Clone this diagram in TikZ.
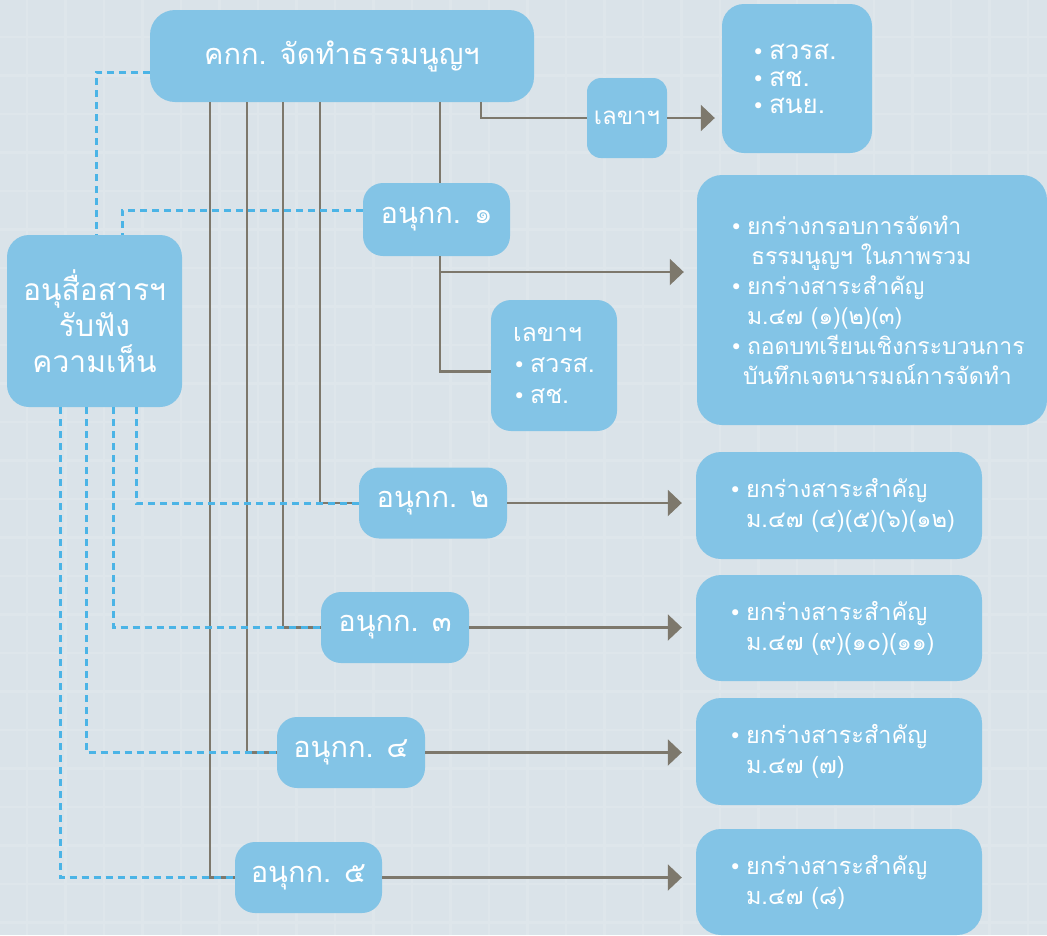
\documentclass[tikz,border=0pt]{standalone}
\usepackage{fontspec}
\newfontfamily\thaifont[Script=Thai]{Loma}
\newfontfamily\symfont{DejaVu Sans}
\usetikzlibrary{arrows.meta}
\definecolor{bgc}{HTML}{DAE3E9}
\definecolor{gridc}{HTML}{DEE6EB}
\definecolor{boxc}{HTML}{83C4E6}
\definecolor{linec}{HTML}{7D786C}
\definecolor{dashc}{HTML}{4BB4E6}
\newcommand\bul{\makebox[17pt][l]{\symfont\fontsize{21}{21}\selectfont •}}
\newcommand\ind{\hspace*{17pt}}
\tikzset{
  box/.style={fill=boxc, draw=none, rounded corners=22pt, inner sep=0pt, text=white,
    font=\thaifont\fontsize{29}{36}\selectfont, align=center},
  listbox/.style={box, align=left, font=\thaifont\fontsize{23.5}{30}\selectfont},
  conn/.style={draw=linec, line width=2.2pt},
  arr/.style={conn, -{Triangle[length=14pt,width=26pt]}, shorten >=14pt},
  dsh/.style={draw=dashc, line width=3pt, dash pattern=on 7pt off 5pt}
}
\begin{document}
\begin{tikzpicture}[x=1pt,y=-1pt]
\fill[bgc] (0,0) rectangle (1047,935);
\useasboundingbox (0,0) rectangle (1047,935);
\foreach \i in {0,...,27} {
  \draw[gridc, line width=2.5pt] (27+38.5*\i,0) -- (27+38.5*\i,935);
}
\foreach \i in {0,...,24} {
  \draw[gridc, line width=2.5pt] (0,37+38.5*\i) -- (1047,37+38.5*\i);
}

% nodes
\node[box, minimum width=384pt, minimum height=92pt, rounded corners=25pt] (main) at (342,56) {คกก. จัดทำธรรมนูญฯ};
\node[box, minimum width=80pt, minimum height=80pt, rounded corners=14pt, font=\thaifont\fontsize{24}{30}\selectfont] (lekha1) at (627,118) {เลขาฯ};
\node[listbox, minimum width=150pt, minimum height=149pt, text width=90pt, inner xsep=30pt, font=\thaifont\fontsize{26}{27}\selectfont] (topr) at (797,78.5) {\bul สวรส.\\ \bul สช.\\ \bul สนย.};
\node[box, minimum width=147pt, minimum height=73pt, rounded corners=20pt] (sub1) at (436.5,219.5) {อนุกก. ๑};
\node[listbox, minimum width=350pt, minimum height=250pt, text width=284pt, inner xsep=33pt, rounded corners=25pt, font=\thaifont\fontsize{23}{30}\selectfont] (big1) at (872,300)
  {\bul ยกร่างกรอบการจัดทำ\\ \ind\hspace*{4pt}ธรรมนูญฯ ในภาพรวม\\ \bul ยกร่างสาระสำคัญ\\ \ind ม.๔๗ (๑)(๒)(๓)\\ \mbox{\bul ถอดบทเรียนเชิงกระบวนการ}\\ \mbox{\hspace*{13pt}บันทึกเจตนารมณ์การจัดทำ}};
\node[listbox, minimum width=126pt, minimum height=131pt, text width=82pt, inner xsep=22pt, rounded corners=20pt, font=\thaifont\fontsize{25}{31}\selectfont] (lekha2) at (554,365.5)
  {เลขาฯ\\ \bul สวรส.\\ \bul สช.};
\node[box, minimum width=175pt, minimum height=172pt, font=\thaifont\fontsize{30}{36}\selectfont] (comm) at (94.5,321) {อนุสื่อสารฯ\\ รับฟัง\\ ความเห็น};
\node[box, minimum width=148pt, minimum height=71pt, rounded corners=20pt] (sub2) at (433,503) {อนุกก. ๒};
\node[box, minimum width=148pt, minimum height=71pt, rounded corners=20pt] (sub3) at (395,627.5) {อนุกก. ๓};
\node[box, minimum width=148pt, minimum height=71pt, rounded corners=20pt] (sub4) at (351,752.5) {อนุกก. ๔};
\node[box, minimum width=147pt, minimum height=71pt, rounded corners=20pt] (sub5) at (308.5,877.5) {อนุกก. ๕};
\node[listbox, minimum width=286pt, minimum height=107pt, text width=220pt, inner xsep=33pt, rounded corners=25pt] (box2) at (839,505.5)
  {\mbox{\bul ยกร่างสาระสำคัญ}\\ \mbox{\ind ม.๔๗ (๔)(๕)(๖)(๑๒)}};
\node[listbox, minimum width=286pt, minimum height=106pt, text width=220pt, inner xsep=33pt, rounded corners=25pt] (box3) at (839,628)
  {\mbox{\bul ยกร่างสาระสำคัญ}\\ \mbox{\ind ม.๔๗ (๙)(๑๐)(๑๑)}};
\node[listbox, minimum width=286pt, minimum height=107pt, text width=220pt, inner xsep=33pt, rounded corners=25pt] (box4) at (839,751.5)
  {\mbox{\bul ยกร่างสาระสำคัญ}\\ \mbox{\ind ม.๔๗ (๗)}};
\node[listbox, minimum width=286pt, minimum height=106pt, text width=220pt, inner xsep=33pt, rounded corners=25pt] (box5) at (839,882)
  {\mbox{\bul ยกร่างสาระสำคัญ}\\ \mbox{\ind ม.๔๗ (๘)}};

% coordinates on edges
\coordinate (mL) at (481,102);
\coordinate (m1) at (440,102);
\coordinate (s1t) at (440,183);
\coordinate (s1b) at (440,256);
\coordinate (j1) at (440,272);
\coordinate (m2) at (320,102);
\coordinate (m3) at (283,102);
\coordinate (m4) at (247,102);
\coordinate (m5) at (210,102);
\coordinate (ct1) at (96,235);
\coordinate (ct2) at (122,235);
\coordinate (c2) at (136,407);
\coordinate (c3) at (113,407);
\coordinate (c4) at (86,407);
\coordinate (c5) at (60,407);

% solid connectors
\draw[conn] (mL) |- (lekha1.west);
\draw[arr, shorten >=7pt] (lekha1.east) -- (lekha1.east -| topr.west);
\draw[conn] (m1) -- (s1t);
\draw[conn] (s1b) |- ([yshift=-6pt]lekha2.west);
\draw[arr, shorten >=13pt] (j1) -- (j1 -| big1.west);
\draw[conn] (m2) |- (sub2.west);
\draw[conn] (m3) |- (sub3.west);
\draw[conn] (m4) |- (sub4.west);
\draw[conn] (m5) |- (sub5.west);
\draw[arr] (sub2.east) -- (sub2.east -| box2.west);
\draw[arr] (sub3.east) -- (sub3.east -| box3.west);
\draw[arr] (sub4.east) -- (sub4.east -| box4.west);
\draw[arr] (sub5.east) -- (sub5.east -| box5.west);

% dashed connectors
\draw[dsh] ([yshift=-16pt]main.west) -| (ct1);
\draw[dsh] ([yshift=9.5pt]sub1.west) -| (ct2);
\draw[dsh] (c2) |- (sub2.west);
\draw[dsh] (c3) |- (sub3.west);
\draw[dsh] (c4) |- (sub4.west);
\draw[dsh] (c5) |- (sub5.west);
\end{tikzpicture}
\end{document}
